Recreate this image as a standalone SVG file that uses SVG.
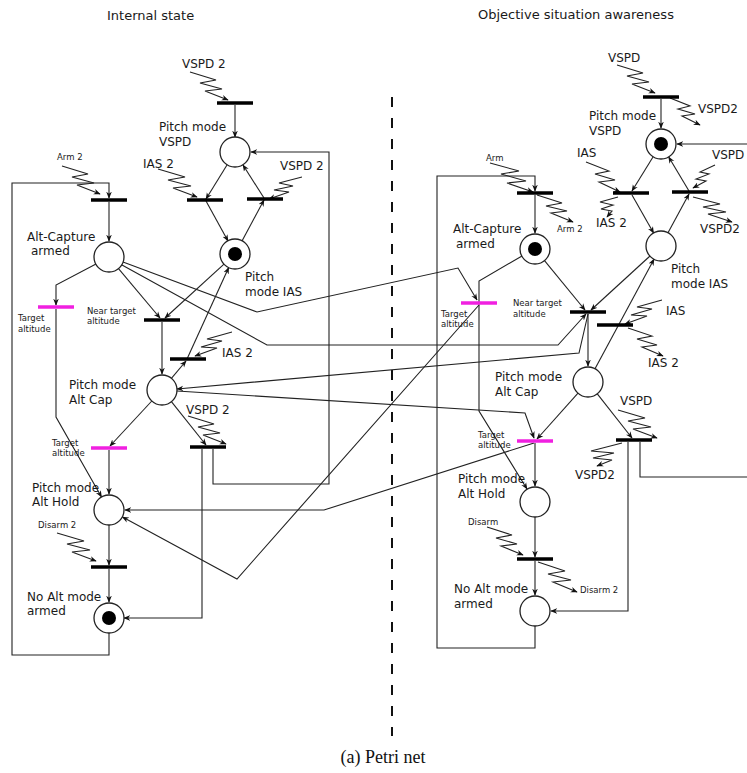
<svg xmlns="http://www.w3.org/2000/svg" width="747" height="773" viewBox="0 0 747 773">
<style>
.ln{fill:none;stroke:#222;stroke-width:1.1}
.ar{marker-end:url(#ah)}
.pl{fill:#fff;stroke:#222;stroke-width:1.3}
.tk{fill:#000}
.tr{stroke:#000;stroke-width:3.5}
.tm{stroke:#f020e0;stroke-width:3.5}
.t{font-family:"DejaVu Sans",sans-serif;font-size:12px;fill:#1a1a1a}
.s{font-family:"DejaVu Sans",sans-serif;font-size:8.5px;fill:#1a1a1a}
.h{font-family:"DejaVu Sans",sans-serif;font-size:13px;fill:#1a1a1a}
</style>
<defs>
<marker id="ah" viewBox="0 0 10 10" refX="9" refY="5" markerWidth="7" markerHeight="7" markerUnits="userSpaceOnUse" orient="auto"><path d="M0,1 L10,5 L0,9 L3,5 z" fill="#111"/></marker>
</defs>
<rect width="747" height="773" fill="#fff"/>
<text class="h" x="107" y="20">Internal state</text>
<text class="h" x="478" y="19">Objective situation awareness</text>
<line x1="392" y1="97" x2="392" y2="736" stroke="#111" stroke-width="2" stroke-dasharray="10 11"/>
<text x="383" y="763" text-anchor="middle" font-family="Liberation Serif,serif" font-size="18" fill="#111">(a) Petri net</text>

<g id="connectors">
<!-- left internal -->
<path class="ln ar" d="M235,105 V137"/>
<path class="ln ar" d="M227,165 L206,199"/>
<path class="ln ar" d="M206,201 L228,241"/>
<path class="ln ar" d="M242,241 L264,200"/>
<path class="ln ar" d="M264,198 L243,165"/>
<path class="ln ar" d="M213,449 V484 H329 V152 H251"/>
<path class="ln ar" d="M202,449 V618 H124"/>
<path class="ln ar" d="M109,633 V655 H12 V183 H109 V198"/>
<path class="ln ar" d="M109,202 V241"/>
<path class="ln ar" d="M96,264 L56,285 V305"/>
<path class="ln ar" d="M56,309 V417 L101.5,497"/>
<path class="ln ar" d="M118.5,268.6 L160,318"/>
<path class="ln ar" d="M224,264.2 L165,318"/>
<path class="ln ar" d="M162,322 V374"/>
<path class="ln ar" d="M171.4,378.3 L186,361"/>
<path class="ln ar" d="M187,359 L228.7,267.6"/>
<path class="ln ar" d="M151.8,401 L110,446"/>
<path class="ln ar" d="M109,450 V494"/>
<path class="ln ar" d="M171.4,401.7 L206,445"/>
<path class="ln ar" d="M109,525 V565"/>
<path class="ln ar" d="M109,569 V602"/>
<!-- right internal -->
<path class="ln ar" d="M661,99 V128"/>
<path class="ln ar" d="M653,157 L632,191"/>
<path class="ln ar" d="M632,195 L653.6,233"/>
<path class="ln ar" d="M668,232.8 L689,194"/>
<path class="ln ar" d="M689,191 L668.7,157"/>
<path class="ln ar" d="M750,144 H677"/>
<path class="ln" d="M640,442 V477 H750"/>
<path class="ln ar" d="M628,442 V611 H551"/>
<path class="ln ar" d="M535,626 V648 H437 V176 H535 V191"/>
<path class="ln ar" d="M535,195 V233"/>
<path class="ln ar" d="M522,256 L479,281 V411 L527,489"/>
<path class="ln ar" d="M544.5,260.6 L585,310"/>
<path class="ln ar" d="M650,256 L591,310"/>
<path class="ln ar" d="M588,314 V366"/>
<path class="ln ar" d="M595,368.8 L654,259.2"/>
<path class="ln ar" d="M578,393.2 L537,439"/>
<path class="ln ar" d="M535,443 V486"/>
<path class="ln ar" d="M597.3,393.8 L632,438"/>
<path class="ln ar" d="M535,517 V557"/>
<path class="ln ar" d="M535,561 V595"/>
<!-- cross -->
<path class="ln ar" d="M123,262 L257,312 L458,268 L477,300"/>
<path class="ln ar" d="M122,265 L267,345 L558,345 L586,314"/>
<path class="ln ar" d="M588,314 L579,353 L177,389"/>
<path class="ln ar" d="M177,391 L525,413 L534,438"/>
<path class="ln ar" d="M479,305 L237,579 L122.5,517"/>
<path class="ln ar" d="M534,443 L324,510 L125,510"/>
<!-- lightning events -->
<path class="ln ar" d="M190,72 L216,80 L200,83 L222,89 L205,91 L228,100"/>
<path class="ln ar" d="M62,166 L88,174 L72,177 L94,183 L77,185 L100,194"/>
<path class="ln ar" d="M158,169 L185,177 L168,180 L191,186 L173,188 L197,197"/>
<path class="ln ar" d="M302,177 L279,183 L293,186 L274,190 L289,192 L269,199"/>
<path class="ln ar" d="M232,332 L207,339 L222,341 L201,347 L217,348 L195,356"/>
<path class="ln ar" d="M188,416 L214,424 L198,427 L220,433 L203,435 L226,444"/>
<path class="ln ar" d="M57,533 L84,541 L67,544 L90,550 L72,552 L96,561"/>
<path class="ln ar" d="M617,65 L643,73 L627,76 L649,82 L632,84 L655,93"/>
<path class="ln ar" d="M670,98 L690,106 L678,109 L695,114 L682,116 L700,125"/>
<path class="ln ar" d="M490,163 L519,171 L501,174 L526,181 L507,183 L533,192"/>
<path class="ln ar" d="M537,195 L562,203 L546,206 L567,211 L551,213 L573,222"/>
<path class="ln ar" d="M586,162 L609,171 L595,174 L615,180 L599,182 L620,192"/>
<path class="ln ar" d="M618,197 L600,202 L613,205 L601,209 L612,211 L607,217"/>
<path class="ln ar" d="M715,165 L700,172 L709,174 L696,179 L706,181 L693,188"/>
<path class="ln ar" d="M693,197 L720,204 L703,207 L726,212 L708,214 L732,222"/>
<path class="ln ar" d="M662,300 L637,307 L652,309 L631,315 L647,316 L625,324"/>
<path class="ln ar" d="M628,328 L652,336 L637,339 L657,345 L642,347 L663,356"/>
<path class="ln ar" d="M618,410 L645,418 L628,421 L651,427 L633,429 L657,438"/>
<path class="ln ar" d="M622,443 L591,451 L614,453 L593,458 L612,460 L597,466"/>
<path class="ln ar" d="M487,527 L512,535 L496,538 L517,544 L501,546 L523,555"/>
<path class="ln ar" d="M538,562 L565,571 L548,574 L571,580 L553,582 L577,592"/>
</g>

<!-- left places -->
<g id="p-vspd-l"><circle class="pl" cx="235" cy="152" r="15"/><text class="t" x="159" y="131">Pitch mode</text><text class="t" x="159" y="146">VSPD</text></g>
<g id="p-ias-l"><circle class="pl" cx="235" cy="254" r="15"/><circle class="tk" cx="235" cy="254" r="7"/><text class="t" x="245" y="281">Pitch</text><text class="t" x="245" y="296">mode IAS</text></g>
<g id="p-ac-l"><circle class="pl" cx="109" cy="257" r="15"/><text class="t" x="27" y="241">Alt-Capture</text><text class="t" x="31" y="255">armed</text></g>
<g id="p-altcap-l"><circle class="pl" cx="162" cy="390" r="15"/><text class="t" x="69" y="389">Pitch mode</text><text class="t" x="69" y="404">Alt Cap</text></g>
<g id="p-althold-l"><circle class="pl" cx="109" cy="510" r="15"/><text class="t" x="32" y="492">Pitch mode</text><text class="t" x="32" y="506">Alt Hold</text></g>
<g id="p-noalt-l"><circle class="pl" cx="109" cy="618" r="15"/><circle class="tk" cx="109" cy="618" r="7"/><text class="t" x="27" y="601">No Alt mode</text><text class="t" x="27" y="615">armed</text></g>
<!-- left transitions -->
<g id="t-vspd2-top-l"><line class="tr" x1="217" y1="103" x2="253" y2="103"/><text class="t" x="182" y="68">VSPD 2</text></g>
<g id="t-arm2-l"><line class="tr" x1="91" y1="200" x2="127" y2="200"/><text class="s" x="57" y="160">Arm 2</text></g>
<g id="t-ias2-l"><line class="tr" x1="187" y1="200" x2="223" y2="200"/><text class="t" x="143" y="168">IAS 2</text></g>
<g id="t-vspd2-l"><line class="tr" x1="247" y1="199" x2="283" y2="199"/><text class="t" x="280" y="170">VSPD 2</text></g>
<g id="t-target1-l"><line class="tm" x1="38" y1="307" x2="74" y2="307"/><text class="s" x="18" y="321">Target</text><text class="s" x="18" y="332">altitude</text></g>
<g id="t-near-l"><line class="tr" x1="144" y1="320" x2="180" y2="320"/><text class="s" x="87" y="314">Near target</text><text class="s" x="87" y="324">altitude</text></g>
<g id="t-ias2-low-l"><line class="tr" x1="170" y1="359" x2="206" y2="359"/><text class="t" x="222" y="357">IAS 2</text></g>
<g id="t-target2-l"><line class="tm" x1="91" y1="448" x2="127" y2="448"/><text class="s" x="52" y="446">Target</text><text class="s" x="52" y="456">altitude</text></g>
<g id="t-vspd2-low-l"><line class="tr" x1="190" y1="447" x2="226" y2="447"/><text class="t" x="186" y="414">VSPD 2</text></g>
<g id="t-disarm2-l"><line class="tr" x1="91" y1="567" x2="127" y2="567"/><text class="s" x="38" y="528">Disarm 2</text></g>

<!-- right places -->
<g id="p-vspd-r"><circle class="pl" cx="661" cy="144" r="15"/><circle class="tk" cx="661" cy="144" r="7"/><text class="t" x="589" y="120">Pitch mode</text><text class="t" x="589" y="135">VSPD</text></g>
<g id="p-ias-r"><circle class="pl" cx="661" cy="246" r="15"/><text class="t" x="671" y="273">Pitch</text><text class="t" x="671" y="288">mode IAS</text></g>
<g id="p-ac-r"><circle class="pl" cx="535" cy="249" r="15"/><circle class="tk" cx="535" cy="249" r="7"/><text class="t" x="453" y="233">Alt-Capture</text><text class="t" x="456" y="248">armed</text></g>
<g id="p-altcap-r"><circle class="pl" cx="588" cy="382" r="15"/><text class="t" x="495" y="381">Pitch mode</text><text class="t" x="495" y="396">Alt Cap</text></g>
<g id="p-althold-r"><circle class="pl" cx="535" cy="502" r="15"/><text class="t" x="458" y="483">Pitch mode</text><text class="t" x="458" y="498">Alt Hold</text></g>
<g id="p-noalt-r"><circle class="pl" cx="535" cy="611" r="15"/><text class="t" x="454" y="593">No Alt mode</text><text class="t" x="454" y="608">armed</text></g>
<!-- right transitions -->
<g id="t-vspd-top-r"><line class="tr" x1="643" y1="97" x2="679" y2="97"/><text class="t" x="608" y="62">VSPD</text><text class="t" x="698" y="113">VSPD2</text></g>
<g id="t-arm-r"><line class="tr" x1="517" y1="193" x2="553" y2="193"/><text class="s" x="486" y="161">Arm</text><text class="s" x="557" y="232">Arm 2</text></g>
<g id="t-ias-r"><line class="tr" x1="613" y1="193" x2="649" y2="193"/><text class="t" x="577" y="157">IAS</text><text class="t" x="596" y="227">IAS 2</text></g>
<g id="t-vspd-r"><line class="tr" x1="672" y1="192" x2="708" y2="192"/><text class="t" x="712" y="159">VSPD</text><text class="t" x="700" y="233">VSPD2</text></g>
<g id="t-target1-r"><line class="tm" x1="461" y1="303" x2="497" y2="303"/><text class="s" x="441" y="317">Target</text><text class="s" x="441" y="327">altitude</text></g>
<g id="t-near-r"><line class="tr" x1="570" y1="312" x2="606" y2="312"/><text class="s" x="513" y="306">Near target</text><text class="s" x="513" y="317">altitude</text></g>
<g id="t-ias-low-r"><line class="tr" x1="597" y1="325" x2="633" y2="325"/><text class="t" x="666" y="315">IAS</text><text class="t" x="648" y="367">IAS 2</text></g>
<g id="t-target2-r"><line class="tm" x1="517" y1="441" x2="553" y2="441"/><text class="s" x="478" y="438">Target</text><text class="s" x="478" y="448">altitude</text></g>
<g id="t-vspd-low-r"><line class="tr" x1="616" y1="440" x2="652" y2="440"/><text class="t" x="620" y="405">VSPD</text><text class="t" x="575" y="479">VSPD2</text></g>
<g id="t-disarm-r"><line class="tr" x1="517" y1="559" x2="553" y2="559"/><text class="s" x="468" y="525">Disarm</text><text class="s" x="580" y="593">Disarm 2</text></g>
</svg>
